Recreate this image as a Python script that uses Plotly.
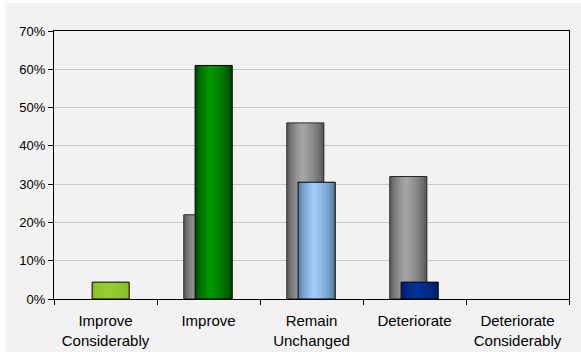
import plotly.graph_objects as go

# Survey outcome categories and the two response series
categories = ["Improve<br>Considerably", "Improve", "Remain<br>Unchanged",
              "Deteriorate", "Deteriorate<br>Considerably"]
previous = [0.0, 0.22, 0.46, 0.32, 0.0]
current = [0.044, 0.61, 0.305, 0.044, 0.0]
y_ticks = [0, 0.1, 0.2, 0.3, 0.4, 0.5, 0.6, 0.7]

# Shading: (edge colour, centre colour) per bar
prev_shade = ("#4c4c4c", "#a8a8a8")
curr_shades = [("#86b82a", "#97cf30"),
               ("#003a00", "#009a00"),
               ("#4a6d92", "#a4d0ff"),
               ("#001c60", "#003399"),
               ("#001c60", "#003399")]

BAR_W = 0.36
PREV_OFF = -0.24
CURR_OFF = -0.13
N_STRIPS = 14


def hex_rgb(h):
    h = h.lstrip("#")
    return tuple(int(h[i:i + 2], 16) for i in (0, 2, 4))


def mix(edge, centre, k):
    a, b = hex_rgb(edge), hex_rgb(centre)
    return "rgb(%d,%d,%d)" % tuple(round(x + (y - x) * k) for x, y in zip(a, b))


def profile(i):
    # cylinder-like brightness, peaking a bit left of centre
    t = (i + 0.5) / N_STRIPS
    peak = 0.42
    d = t / peak if t < peak else (1 - t) / (1 - peak)
    return max(0.0, min(1.0, d)) ** 0.6


def shaded_bars(fig, values, shades, offset, line_color):
    sw = BAR_W / N_STRIPS
    for i in range(N_STRIPS):
        k = profile(i)
        # each strip overlaps the next one so no seams show between them
        w = sw * 2 if i < N_STRIPS - 1 else sw
        fig.add_trace(go.Bar(
            x=categories, y=values, width=w, offset=offset + i * sw,
            marker=dict(color=[mix(e, c, k) for e, c in shades], line=dict(width=0)),
            hoverinfo="skip", showlegend=False))
    fig.add_trace(go.Bar(
        x=categories, y=values, width=BAR_W, offset=offset,
        marker=dict(color="rgba(0,0,0,0)",
                    line=dict(color=line_color,
                              width=[1 if v > 0 else 0 for v in values])),
        showlegend=False))


fig = go.Figure()
shaded_bars(fig, previous, [prev_shade] * len(categories), PREV_OFF, "#2a2a2a")
shaded_bars(fig, current, curr_shades, CURR_OFF, "#000000")

L, R, T, B = 54, 12, 31, 53
W, H = 581, 352
pw, ph = W - L - R, H - T - B

fig.update_layout(
    width=W, height=H,
    margin=dict(l=L, r=R, t=T, b=B, autoexpand=False),
    barmode="overlay",
    paper_bgcolor="#f2f2f2",
    plot_bgcolor="#f2f2f2",
    font=dict(family="Liberation Sans, Arial, sans-serif", color="#000000", size=13),
    shapes=[
        # white frame strips at the left and top of the canvas
        dict(type="rect", xref="paper", yref="paper", layer="below",
             x0=-L / pw, x1=-(L - 5) / pw, y0=-B / ph, y1=(ph + T) / ph,
             fillcolor="#ffffff", line=dict(width=0)),
        dict(type="rect", xref="paper", yref="paper", layer="below",
             x0=-L / pw, x1=(pw + R) / pw, y0=(ph + T - 3) / ph, y1=(ph + T) / ph,
             fillcolor="#ffffff", line=dict(width=0)),
    ],
)
fig.update_xaxes(
    type="category", tickson="boundaries", ticks="outside", ticklen=5,
    tickcolor="#000000", showline=True, linecolor="#000000", linewidth=1,
    mirror=True, showgrid=False, tickfont=dict(size=15), ticklabelstandoff=8,
    automargin=False,
)
fig.update_yaxes(
    range=[0, 0.7], tickvals=y_ticks, tickformat=".0%", ticks="outside",
    ticklen=5, tickcolor="#000000", showline=True, linecolor="#000000",
    linewidth=1, mirror=True, showgrid=True, gridcolor="#c8c8c8", gridwidth=1,
    zeroline=False, tickfont=dict(size=13), automargin=False,
)

fig.write_html("out.html")
